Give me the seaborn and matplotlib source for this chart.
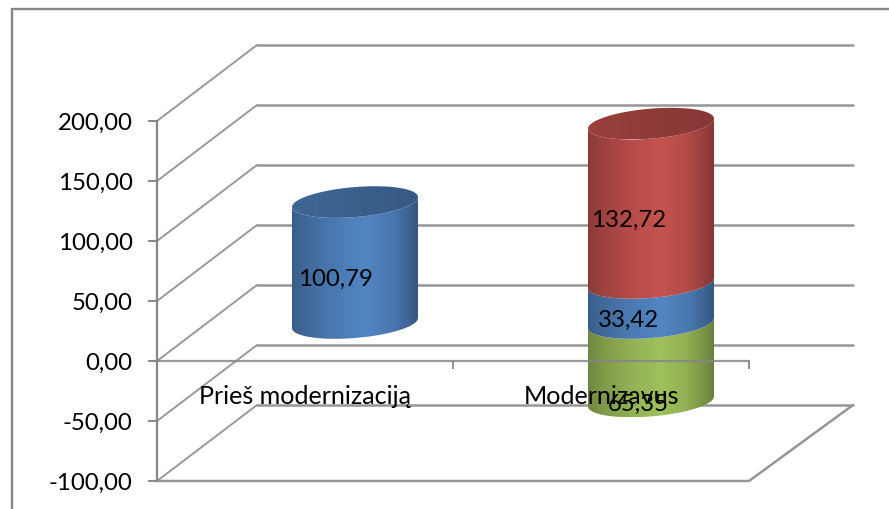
import numpy as np
import pandas as pd
import matplotlib
matplotlib.use("Agg")
import matplotlib.pyplot as plt
from matplotlib.colors import LinearSegmentedColormap, to_rgb
from matplotlib.lines import Line2D
from matplotlib.path import Path
import seaborn as sns

# Chart values
categories = ["Prieš modernizaciją", "Modernizavus"]
green_values = [0.0, -65.35]
blue_values = [100.79, 33.42]
red_values = [0.0, 132.72]
y_ticks = [-100, -50, 0, 50, 100, 150, 200]

# Series colours, drawn bottom to top
GREEN, BLUE, RED = "#9bbb59", "#4f81bd", "#c0504d"
GRID = "#969696"
AXIS = "#868686"

sns.set_theme(style="white")
plt.rcParams["font.family"] = ["Lato", "DejaVu Sans"]
FONT = 17.3
CATEGORY_FONT = 18.1

W, H = 889, 509
fig = plt.figure(figsize=(W / 100, H / 100), dpi=100, facecolor="white")


def axes_box(left, top, right, bottom):
    return [left / W, 1 - bottom / H, (right - left) / W, (bottom - top) / H]


PLOT = (157, 121, 749, 481)
X_LIM, Y_LIM = (-0.5, 1.5), (-100, 200)
PX_X = (X_LIM[1] - X_LIM[0]) / (PLOT[2] - PLOT[0])
PX_Y = (Y_LIM[1] - Y_LIM[0]) / (PLOT[3] - PLOT[1])

# Chart-area border: only the left and top edges fall inside the canvas
line_kw = dict(color=AXIS, lw=1.7, transform=fig.transFigure)
fig.add_artist(Line2D([12 / W, 12 / W], [0, 1 - 9 / H], **line_kw))
fig.add_artist(Line2D([12 / W, 1], [1 - 9 / H, 1 - 9 / H], **line_kw))

# Back layer: wall and floor of the 3D box
ax_wall = fig.add_axes(axes_box(*PLOT), zorder=1)
ax_wall.set(xlim=X_LIM, ylim=Y_LIM)
ax_wall.axis("off")
depth_x, depth_y = 100 * PX_X, 76 * PX_Y
back_right = X_LIM[1] + 104 * PX_X
for tick in y_ticks:
    back_y = tick + depth_y
    ax_wall.plot([X_LIM[0], X_LIM[0] + depth_x], [tick, back_y], color=GRID,
                 lw=1.35, clip_on=False, solid_capstyle="round")
    ax_wall.plot([X_LIM[0] + depth_x, back_right], [back_y, back_y], color=GRID,
                 lw=1.8, clip_on=False)
ax_wall.plot([X_LIM[0], X_LIM[1], back_right],
             [Y_LIM[0], Y_LIM[0], Y_LIM[0] + depth_y],
             color=GRID, lw=1.8, clip_on=False, solid_joinstyle="miter")

# Middle layer: bars sit half-way into the box depth
ax_bar = fig.add_axes(axes_box(PLOT[0] + 50, PLOT[1] - 38, PLOT[2] + 50, PLOT[3] - 38), zorder=2)
frame = pd.DataFrame({"stage": categories, "green": green_values,
                      "blue": blue_values, "red": red_values})
bar_width = 126 * PX_X
stack_bottom = frame["blue"].where(frame["red"] != 0, 0.0)
sns.barplot(data=frame, x="stage", y="green", color=GREEN, saturation=1, width=bar_width, ax=ax_bar)
sns.barplot(data=frame, x="stage", y="blue", color=BLUE, saturation=1, width=bar_width, ax=ax_bar)
sns.barplot(data=frame, x="stage", y="red", bottom=stack_bottom, color=RED, saturation=1,
            width=bar_width, ax=ax_bar)
ax_bar.set(xlim=X_LIM, ylim=Y_LIM, xlabel="", ylabel="")
ax_bar.axis("off")

SHEAR_PX, MINOR_PX = 5.0, 15.0


def lower_arc(xc, half, y):
    """Front half of a base ellipse, left to right, in data units."""
    t = np.linspace(np.pi, 2 * np.pi, 60)
    return np.column_stack([xc + half * np.cos(t),
                            y + (SHEAR_PX * np.cos(t) + MINOR_PX * np.sin(t)) * PX_Y])


def full_ellipse(xc, half, y):
    t = np.linspace(0, 2 * np.pi, 120)
    return np.column_stack([xc + half * np.cos(t),
                            y + (SHEAR_PX * np.cos(t) + MINOR_PX * np.sin(t)) * PX_Y])


BODY_STOPS = [(0.0, 0.72), (0.12, 0.82), (0.35, 0.95), (0.58, 1.03),
              (0.78, 0.94), (0.92, 0.79), (1.0, 0.68)]
CAP_STOPS = [(0.0, 0.80), (0.5, 0.74), (1.0, 0.70)]


def shaded_cmap(color, stops):
    base = np.array(to_rgb(color))
    return LinearSegmentedColormap.from_list(
        "cyl", [(p, tuple(np.clip(base * g, 0, 1))) for p, g in stops])


def paint(outline, x0, x1, cmap, order):
    ys = outline[:, 1]
    image = ax_bar.imshow(np.linspace(0, 1, 256)[None, :], extent=[x0, x1, ys.min(), ys.max()],
                          aspect="auto", cmap=cmap, vmin=0, vmax=1, zorder=order,
                          interpolation="bilinear")
    image.set_clip_path(Path(outline), transform=ax_bar.transData)
    image.set_clip_box(fig.bbox)


series_colors = [GREEN] * 2 + [BLUE] * 2 + [RED] * 2
bars = list(ax_bar.patches)
tops = {}
for patch, color in zip(bars, series_colors):
    height = patch.get_height()
    patch.set_visible(False)
    if height == 0:
        continue
    xc = patch.get_x() + patch.get_width() / 2
    half = patch.get_width() / 2
    low, high = sorted([patch.get_y(), patch.get_y() + height])
    outline = np.vstack([lower_arc(xc, half, low), lower_arc(xc, half, high)[::-1]])
    paint(outline, xc - half, xc + half, shaded_cmap(color, BODY_STOPS), 3)
    if high > tops.get(round(xc), (-1e9,))[0]:
        tops[round(xc)] = (high, xc, half, color)
ax_bar.set(xlim=X_LIM, ylim=Y_LIM)

for high, xc, half, color in tops.values():
    paint(full_ellipse(xc, half, high), xc - half, xc + half, shaded_cmap(color, CAP_STOPS), 4)

# Data labels, offset to the left as the spreadsheet renders them
label_spec = [(0, blue_values[0], blue_values[0] / 2, -20, -17),
              (1, blue_values[1], blue_values[1] / 2, -22, -17),
              (1, red_values[1], blue_values[1] + red_values[1] / 2, -22, -17),
              (1, green_values[1], green_values[1], -13, -3)]

# Front layer: axes, ticks and category names
ax = fig.add_axes(axes_box(*PLOT), zorder=3)
ax.patch.set_alpha(0)
ax.set(xlim=X_LIM, ylim=Y_LIM)
sns.despine(ax=ax, top=True, right=True)
ax.spines["left"].set(color=AXIS, lw=1.6)
ax.spines["bottom"].set_position(("data", 0))
ax.spines["bottom"].set(color=AXIS, lw=1.6, alpha=0.85)
ax.set_yticks(y_ticks, [f"{v:.2f}".replace(".", ",") for v in y_ticks], fontsize=FONT, color="black")
ax.tick_params(axis="y", length=6.5, width=1.4, color=AXIS, pad=11, left=True)
ax.set_xticks([-0.5, 0.5, 1.5], ["", "", ""])
ax.tick_params(axis="x", which="major", length=5.5, width=1.3, color=AXIS, bottom=True)
ax.set_xticks([0, 1], categories, minor=True, fontsize=CATEGORY_FONT, color="black")
ax.tick_params(axis="x", which="minor", length=0, pad=17, bottom=False)

for cat, value, anchor, dx, dy in label_spec:
    ax.annotate(f"{abs(value):.2f}".replace(".", ","), xy=(cat, anchor), xycoords=ax_bar.transData,
                xytext=(dx * 0.72, dy * 0.72), textcoords="offset points",
                ha="center", va="center", fontsize=FONT, color="black", annotation_clip=False)

fig.savefig("out.png", dpi=100, facecolor="white")
